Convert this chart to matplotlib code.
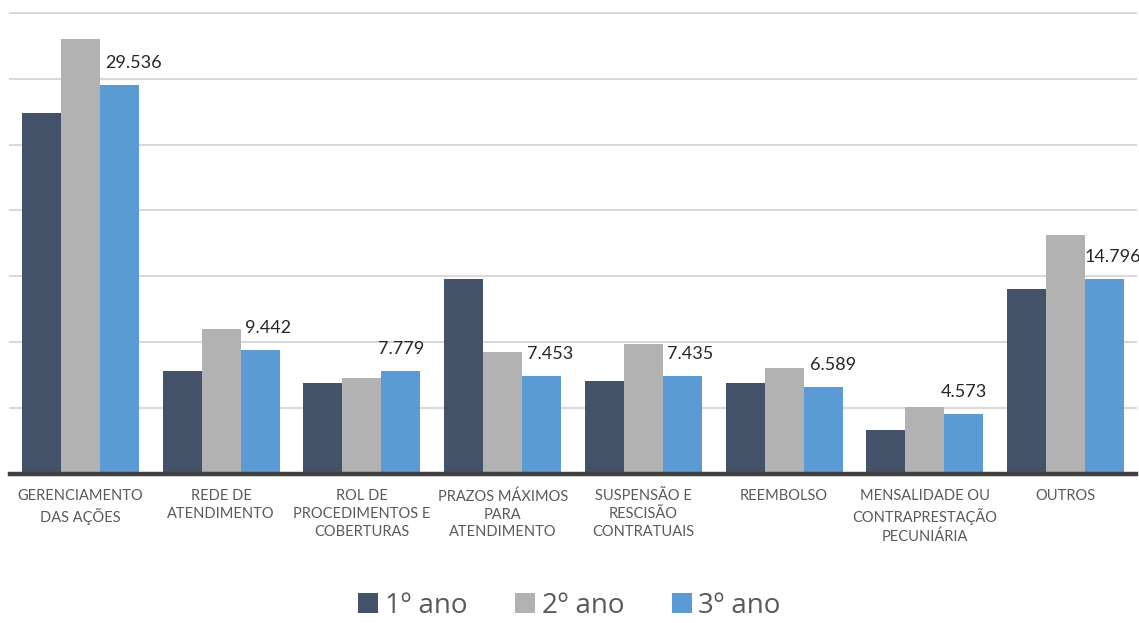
import matplotlib
matplotlib.use("Agg")
import matplotlib.pyplot as plt
from matplotlib.patches import Patch
import numpy as np

categories = [
    "GERENCIAMENTO\nDAS AÇÕES",
    "REDE DE\nATENDIMENTO",
    "ROL DE\nPROCEDIMENTOS E\nCOBERTURAS",
    "PRAZOS MÁXIMOS\nPARA\nATENDIMENTO",
    "SUSPENSÃO E\nRESCISÃO\nCONTRATUAIS",
    "REEMBOLSO",
    "MENSALIDADE OU\nCONTRAPRESTAÇÃO\nPECUNIÁRIA",
    "OUTROS",
]
series_names = ["1º ano", "2º ano", "3º ano"]
ano1 = [27380, 7800, 6870, 14760, 7060, 6870, 3330, 14030]
ano2 = [32980, 11030, 7320, 9260, 9870, 8020, 5050, 18140]
ano3 = [29536, 9442, 7779, 7453, 7435, 6589, 4573, 14796]
label_texts = ["29.536", "9.442", "7.779", "7.453", "7.435", "6.589", "4.573", "14.796"]

# style
colors = ["#435269", "#B2B2B2", "#5B9BD5"]
label_dx_px = [14, 8, 0, 8, 8, 10, 0, 8]
font = "Lato"

fig = plt.figure(figsize=(11.39, 6.23), dpi=100)
ax = fig.add_axes([10 / 1139, 1 - 474 / 623, 1126 / 1139, (474 - 12.7) / 623])

x = np.arange(len(categories))
w = 0.2775
for i, (vals, c, name) in enumerate(zip([ano1, ano2, ano3], colors, series_names)):
    ax.bar(x + (i - 1) * w, vals, width=w, color=c, label=name, zorder=2)

for xi, v, t, dx in zip(x, ano3, label_texts, label_dx_px):
    ax.annotate(t, xy=(xi + w, v), xytext=(dx, 22), textcoords="offset pixels",
                ha="center", va="center", fontsize=13, color="#262626",
                family=font, zorder=3)

ax.set_xlim(-0.5, len(categories) - 0.5)
ax.set_ylim(0, 35000)
ax.set_yticks(np.arange(0, 35001, 5000))
ax.yaxis.grid(True, color="#D9D9D9", linewidth=1.5, zorder=0)
ax.set_axisbelow(True)
for gl in ax.get_ygridlines():
    gl.set_clip_on(False)
ax.tick_params(axis="y", left=False, labelleft=False)
ax.set_xticks(x)
ax.set_xticklabels(categories, fontsize=10.5, color="#595959", family=font,
                   linespacing=1.35, va="top")
ax.tick_params(axis="x", length=0, pad=11)
for s in ["left", "right", "top"]:
    ax.spines[s].set_visible(False)
ax.spines["bottom"].set_color("#404040")
ax.spines["bottom"].set_linewidth(3.2)
ax.spines["bottom"].set_zorder(4)

handles = [Patch(facecolor=c, edgecolor="none") for c in colors]
fig.legend(handles, series_names, loc="center", bbox_to_anchor=(0.5, 1 - 606 / 623),
           ncol=3, frameon=False, prop={"family": "Open Sans", "size": 20},
           labelcolor="#595959", handlelength=0.72, handleheight=0.72,
           handletextpad=0.25, columnspacing=1.7, borderpad=0)

fig.savefig("out.png", dpi=100, facecolor="white")
